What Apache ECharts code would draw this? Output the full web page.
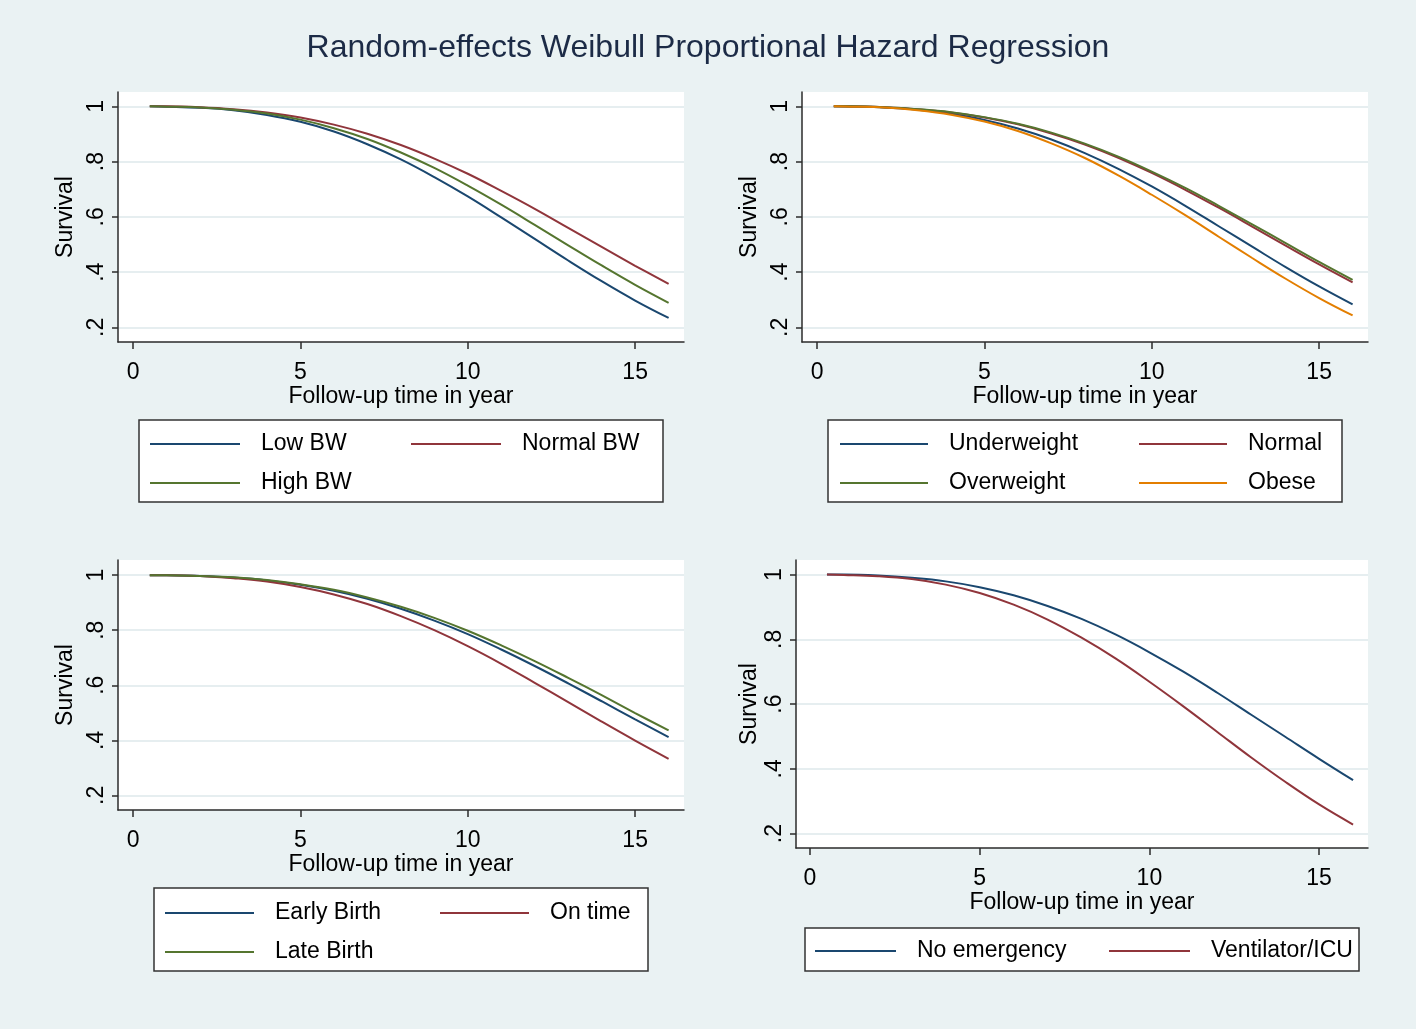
<!DOCTYPE html>
<html>
<head>
<meta charset="utf-8">
<script src="https://cdn.jsdelivr.net/npm/echarts@6/dist/echarts.min.js"></script>
<style>
html,body{margin:0;padding:0;background:#eaf2f3;}
#chart{width:1416px;height:1029px;}
</style>
</head>
<body>
<div id="chart"></div>
<script>
// ---- data ----
const times = [0.5, 1, 2, 3, 4, 5, 6, 7, 8, 9, 10, 11, 12, 13, 14, 15, 16];
const xTicks = [0, 5, 10, 15];
const yTicks = [0.2, 0.4, 0.6, 0.8, 1];
const yTickLabels = ['.2', '.4', '.6', '.8', '1'];
const xTitle = 'Follow-up time in year';
const yTitle = 'Survival';
const chartTitle = 'Random-effects Weibull Proportional Hazard Regression';

// Panel 1: birth weight
const lowBW      = [1.000,0.999,0.995,0.986,0.969,0.944,0.909,0.863,0.808,0.744,0.674,0.598,0.520,0.442,0.367,0.297,0.234];
const normalBW   = [1.000,1.000,0.997,0.990,0.978,0.960,0.934,0.901,0.860,0.811,0.756,0.694,0.629,0.560,0.491,0.423,0.357];
const highBW     = [1.000,0.999,0.996,0.988,0.974,0.952,0.921,0.882,0.833,0.777,0.713,0.644,0.571,0.497,0.424,0.354,0.289];
// Panel 2: BMI
const underweight= [1.000,0.999,0.996,0.988,0.973,0.951,0.920,0.880,0.831,0.774,0.710,0.640,0.566,0.492,0.418,0.348,0.283];
const normalW    = [1.000,1.000,0.997,0.990,0.978,0.960,0.935,0.902,0.862,0.814,0.759,0.698,0.633,0.565,0.496,0.428,0.363];
const overweight = [1.000,1.000,0.997,0.990,0.979,0.961,0.937,0.905,0.865,0.818,0.764,0.705,0.640,0.573,0.505,0.437,0.372];
const obese      = [1.000,0.999,0.996,0.986,0.970,0.945,0.911,0.866,0.813,0.750,0.680,0.606,0.528,0.451,0.376,0.306,0.243];
// Panel 3: birth timing
const earlyBirth = [1.000,1.000,0.997,0.991,0.981,0.965,0.943,0.914,0.878,0.835,0.786,0.730,0.670,0.607,0.542,0.476,0.412];
const onTime     = [1.000,1.000,0.997,0.989,0.977,0.957,0.930,0.895,0.851,0.800,0.742,0.678,0.609,0.539,0.468,0.399,0.333];
const lateBirth  = [1.000,1.000,0.997,0.992,0.982,0.967,0.947,0.919,0.885,0.845,0.798,0.745,0.688,0.627,0.564,0.499,0.436];
// Panel 4: emergency
const noEmergency= [1.000,1.000,0.997,0.990,0.979,0.961,0.936,0.903,0.863,0.815,0.760,0.700,0.635,0.567,0.499,0.431,0.365];
const ventilator = [1.000,0.999,0.995,0.986,0.969,0.943,0.907,0.861,0.805,0.741,0.669,0.593,0.514,0.435,0.360,0.290,0.228];

// ---- styles ----
const FONT = '"Liberation Sans", Arial, sans-serif';
const NAVY = '#1a476f', MAROON = '#90353b', GREEN = '#55752f', ORANGE = '#e37e00';
const AXIS_COLOR = '#2b2b2b';

const panels = [
  {grid:{left:118, top:92, width:566, height:250}, x:[-0.45,16.46], y:[0.147,1.052],
   series:[['Low BW',lowBW,NAVY],['Normal BW',normalBW,MAROON],['High BW',highBW,GREEN]],
   box:[139,420,524,82], iw:90,
   items:[['Low BW',150,444],['Normal BW',411,444],['High BW',150,483]]},
  {grid:{left:802, top:92, width:566, height:250}, x:[-0.45,16.46], y:[0.147,1.052],
   series:[['Underweight',underweight,NAVY],['Normal',normalW,MAROON],['Overweight',overweight,GREEN],['Obese',obese,ORANGE]],
   box:[828,420,514,82], iw:88,
   items:[['Underweight',840,444],['Normal',1139,444],['Overweight',840,483],['Obese',1139,483]]},
  {grid:{left:118, top:560, width:566, height:250}, x:[-0.45,16.46], y:[0.147,1.055],
   series:[['Early Birth',earlyBirth,NAVY],['On time',onTime,MAROON],['Late Birth',lateBirth,GREEN]],
   box:[154,888,494,83], iw:89,
   items:[['Early Birth',165,913],['On time',440,913],['Late Birth',165,952]]},
  {grid:{left:796, top:560, width:572, height:288}, x:[-0.412,16.44], y:[0.1555,1.045],
   series:[['No emergency',noEmergency,NAVY],['Ventilator/ICU',ventilator,MAROON]],
   box:[805,928,554,43], iw:81,
   items:[['No emergency',815,951],['Ventilator/ICU',1109,951]]}
];

const grids = [], xAxes = [], yAxes = [], series = [], legends = [], graphics = [];
panels.forEach((p, i) => {
  grids.push(Object.assign({show:true, backgroundColor:'#ffffff', borderWidth:0}, p.grid));
  xAxes.push({
    type:'value', gridIndex:i, min:p.x[0], max:p.x[1],
    name:xTitle, nameLocation:'middle', nameGap:42,
    nameTextStyle:{fontSize:23, color:'#000', fontFamily:FONT},
    axisLine:{show:true, onZero:false, lineStyle:{color:AXIS_COLOR, width:1.5}},
    axisTick:{show:true, length:7, customValues:xTicks, lineStyle:{color:AXIS_COLOR, width:1.5}},
    axisLabel:{customValues:xTicks, fontSize:23, color:'#000', fontFamily:FONT, margin:19},
    splitLine:{show:false}
  });
  yAxes.push({
    type:'value', gridIndex:i, min:p.y[0], max:p.y[1],
    name:yTitle, nameLocation:'middle', nameGap:(i===3?35:41), nameRotate:90,
    nameTextStyle:{fontSize:23, color:'#000', fontFamily:FONT},
    axisLine:{show:true, onZero:false, lineStyle:{color:AXIS_COLOR, width:1.5}},
    axisTick:{show:true, length:6, customValues:yTicks, lineStyle:{color:AXIS_COLOR, width:1.5}},
    axisLabel:{customValues:yTicks, rotate:90, fontSize:23, color:'#000', fontFamily:FONT, margin:10,
      formatter: v => { const k = yTicks.findIndex(t => Math.abs(t - v) < 1e-6); return k >= 0 ? yTickLabels[k] : ''; }},
    splitLine:{show:true, lineStyle:{color:'#e6eef0', width:2}}
  });
  p.series.forEach(([name, arr, color]) => {
    series.push({
      type:'line', name, xAxisIndex:i, yAxisIndex:i, color,
      data: times.map((t, k) => [t, arr[k]]),
      smooth:0.4, showSymbol:false, symbol:'none',
      lineStyle:{color, width:2}, emphasis:{disabled:true}, silent:true, z:3
    });
  });
  graphics.push({type:'rect', shape:{x:p.box[0], y:p.box[1], width:p.box[2], height:p.box[3]},
    style:{fill:'#ffffff', stroke:'#333333', lineWidth:1.5}, z:0});
  p.items.forEach(([name, lx, ly]) => {
    legends.push({
      data:[name], left:lx, top:ly - 13, padding:0, icon:'rect', itemWidth:p.iw, itemHeight:2,
      selectedMode:false, z:5,
      textStyle:{fontSize:23, color:'#000', fontFamily:FONT, lineHeight:26, padding:[0,0,0,16]}
    });
  });
});

const chart = echarts.init(document.getElementById('chart'), null, {renderer:'canvas'});
chart.setOption({
  backgroundColor:'#eaf2f3',
  animation:false,
  title:{text:chartTitle, left:'center', top:27,
    textStyle:{fontSize:32, fontWeight:'normal', color:'#1c2b46', fontFamily:FONT}},
  grid:grids, xAxis:xAxes, yAxis:yAxes, series, legend:legends, graphic:graphics,
  tooltip:{show:false}
});
</script>
</body>
</html>
